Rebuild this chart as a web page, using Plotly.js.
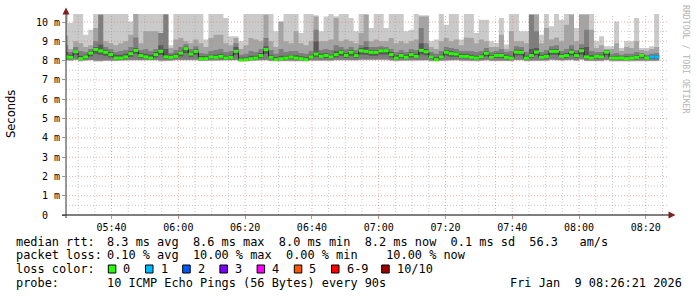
<!DOCTYPE html>
<html><head><meta charset="utf-8">
<script src="https://cdn.plot.ly/plotly-3.0.1.min.js"></script>
<style>html,body{margin:0;padding:0;background:#fff}#chart{width:697px;height:297px}</style>
</head><body><div id="chart"></div>
<script>
// ---------------- data (ms, one value per 90 s step) ----------------
const firstStepUTC = Date.UTC(2026, 0, 9, 5, 25, 30);
const stepMs = 90000;
const rangeStartUTC = Date.UTC(2026, 0, 9, 5, 26, 21);
const rangeEndUTC = Date.UTC(2026, 0, 9, 8, 26, 21);

const medianMs = [
8.19,8.17,8.46,8.10,8.19,8.39,8.58,8.50,8.43,8.31,
8.13,8.13,8.19,8.36,8.53,8.26,8.19,8.13,8.31,8.48,
8.19,8.17,8.22,8.39,8.62,8.34,8.48,8.10,8.10,8.19,
8.17,8.22,8.13,8.17,8.48,8.03,8.05,8.10,8.13,8.26,
8.57,8.17,8.05,8.10,8.13,8.19,8.13,8.10,8.05,8.19,
8.34,8.22,8.27,8.19,8.31,8.43,8.27,8.43,8.26,8.51,
8.48,8.43,8.43,8.51,8.51,8.31,8.13,8.26,8.17,8.31,
8.22,8.53,8.46,8.19,8.05,8.19,8.43,8.36,8.34,8.22,
8.22,8.17,8.13,8.20,8.38,8.17,8.27,8.27,8.17,8.13,
8.44,8.43,8.13,8.26,8.44,8.17,8.22,8.48,8.48,8.22,
8.26,8.44,8.26,8.51,8.19,8.13,8.22,8.19,8.44,8.13,
8.13,8.13,8.10,8.13,8.17,8.27,8.13,8.19,8.19];

const ping1Ms = [
8.00,7.98,8.02,7.96,7.98,8.00,7.95,7.94,7.98,8.00,7.97,7.98,8.00,7.98,8.01,7.99,7.97,7.98,8.00,7.96,
7.95,7.98,8.00,8.02,8.03,8.00,8.01,7.97,7.98,7.99,7.98,7.99,7.97,7.98,8.00,7.96,7.95,7.97,7.98,7.99,
8.00,7.97,7.95,7.96,7.98,7.98,7.97,7.96,7.95,7.98,8.00,7.99,8.01,7.98,8.00,8.02,8.00,8.01,7.99,8.02,
8.02,8.01,8.02,8.03,8.02,7.99,7.96,7.98,7.97,8.00,7.98,8.00,7.99,7.96,7.95,7.97,8.00,7.99,8.00,7.98,
7.98,7.97,7.96,7.97,8.00,7.97,7.99,7.98,7.97,7.96,8.01,8.00,7.96,7.97,8.00,7.97,7.98,8.02,8.01,7.98,
7.99,8.02,7.98,8.03,7.97,7.96,7.98,7.97,8.01,7.96,7.97,7.96,7.95,7.96,7.97,7.99,7.96,7.97,7.97];

const ping2Ms = [
8.04,8.02,8.06,8.00,8.02,8.04,8.00,7.99,8.02,8.04,8.01,8.02,8.04,8.02,8.05,8.03,8.01,8.02,8.04,8.01,
8.00,8.02,8.04,8.06,8.07,8.04,8.05,8.01,8.02,8.03,8.02,8.03,8.01,8.02,8.04,8.00,7.99,8.01,8.02,8.03,
8.04,8.01,7.99,8.00,8.02,8.02,8.01,8.00,7.99,8.02,8.04,8.03,8.05,8.02,8.04,8.06,8.04,8.05,8.03,8.06,
8.06,8.05,8.06,8.07,8.06,8.03,8.00,8.02,8.01,8.04,8.02,8.04,8.03,8.00,7.99,8.01,8.04,8.03,8.04,8.02,
8.02,8.01,8.00,8.01,8.04,8.01,8.03,8.02,8.01,8.00,8.05,8.04,8.00,8.01,8.04,8.01,8.02,8.06,8.05,8.02,
8.03,8.06,8.02,8.07,8.01,8.00,8.02,8.01,8.05,8.00,8.01,8.00,7.99,8.00,8.01,8.03,8.00,8.01,8.01];

const ping4Ms = [
8.10,8.08,8.30,8.03,8.08,8.22,8.35,8.30,8.25,8.18,8.05,8.05,8.10,8.20,8.35,8.15,8.10,8.05,8.18,8.30,
8.08,8.08,8.12,8.22,8.40,8.20,8.30,8.03,8.03,8.10,8.08,8.12,8.05,8.08,8.30,8.01,7.99,8.03,8.05,8.15,
8.35,8.08,7.99,8.03,8.05,8.10,8.05,8.03,7.99,8.10,8.20,8.12,8.15,8.10,8.18,8.25,8.15,8.25,8.15,8.32,
8.30,8.25,8.25,8.32,8.32,8.18,8.05,8.15,8.08,8.18,8.12,8.32,8.28,8.10,7.99,8.10,8.25,8.20,8.20,8.12,
8.12,8.08,8.05,8.10,8.22,8.08,8.15,8.15,8.08,8.05,8.28,8.26,8.05,8.15,8.28,8.08,8.12,8.30,8.30,8.12,
8.15,8.28,8.15,8.32,8.10,8.05,8.12,8.10,8.28,8.05,8.05,8.05,8.03,8.05,8.08,8.16,8.05,8.10,8.10];

const ping7Ms = [
8.45,8.30,8.55,8.25,8.30,8.50,8.70,8.83,8.55,8.45,8.30,8.30,8.35,8.50,8.65,8.40,8.35,8.30,8.45,8.80,
8.60,8.30,8.35,8.50,8.72,8.45,8.60,8.25,8.22,8.30,8.30,8.35,8.25,8.30,8.70,8.15,8.18,8.25,8.25,8.40,
8.75,8.30,8.18,8.25,8.25,8.30,8.28,8.22,8.18,8.30,9.00,8.35,8.40,8.30,8.50,8.55,8.40,8.55,8.38,8.65,
8.70,8.55,8.55,8.62,8.60,8.45,8.28,8.38,8.30,8.45,8.35,8.90,8.60,8.30,8.18,8.30,8.55,8.50,8.45,8.35,
8.35,8.30,8.25,8.32,8.50,8.28,8.38,8.40,8.30,8.25,8.58,8.55,8.25,8.60,8.65,8.30,8.35,8.60,8.60,8.35,
8.40,8.58,8.40,8.65,8.70,8.28,8.32,8.30,8.52,8.22,8.25,8.20,8.20,8.22,8.28,8.33,8.20,8.27,8.28];

const ping8Ms = [
8.80,8.45,8.70,8.50,8.45,8.60,9.00,10.38,8.70,8.60,8.45,8.50,8.55,8.70,9.20,8.55,8.60,8.50,8.60,9.43,
10.38,8.40,8.55,8.70,8.85,8.60,8.75,8.40,8.35,8.50,8.55,8.60,8.45,8.50,8.90,8.30,8.35,8.50,8.45,8.60,
9.17,8.55,8.35,8.60,8.45,8.50,8.50,8.40,8.35,8.50,9.60,8.55,8.60,8.55,8.80,8.70,8.60,8.70,8.55,8.80,
9.00,8.70,8.70,8.75,8.70,8.60,8.45,8.55,8.45,8.60,8.55,9.69,8.90,8.45,8.35,8.50,8.70,8.65,8.60,8.50,
8.50,8.50,8.45,8.50,8.65,8.45,8.50,8.60,8.45,8.50,8.75,8.70,8.45,10.38,9.52,8.45,8.55,8.75,8.80,8.50,
8.60,8.80,8.55,8.85,9.60,8.50,8.45,8.45,8.55,8.35,8.40,8.30,8.35,8.35,8.45,8.40,8.30,8.35,8.40];

const ping9Ms = [
9.30,8.60,9.00,8.90,8.70,8.80,9.69,10.38,9.00,8.90,8.80,8.90,9.00,9.34,10.60,8.90,9.52,9.52,9.52,9.43,
10.60,8.65,9.09,9.17,9.00,8.90,9.10,8.90,8.70,9.17,9.34,9.34,8.90,8.80,9.17,8.60,8.80,9.17,9.09,9.00,
10.38,9.00,8.70,10.00,9.00,8.90,9.52,8.90,8.80,9.00,10.29,9.00,9.00,9.10,10.21,9.00,9.10,9.00,8.90,9.43,
10.38,9.00,9.10,9.00,9.00,9.17,8.90,9.00,8.90,9.00,9.10,10.29,10.29,8.70,8.60,9.00,9.17,9.00,9.10,8.80,
9.20,9.17,8.90,9.10,9.00,8.70,8.70,9.34,8.60,9.52,9.00,9.00,8.90,10.38,10.38,8.90,9.69,9.10,9.20,9.00,
9.86,10.38,9.00,10.38,10.38,9.60,8.65,8.80,8.60,8.60,8.90,8.50,8.70,8.65,9.00,8.55,8.50,8.60,8.70];

const ping10Ms = [
10.60,9.95,10.60,10.60,9.34,9.60,10.60,10.60,10.60,10.60,10.60,10.60,10.60,10.03,10.60,10.60,10.60,10.60,10.60,10.60,
10.60,8.80,10.60,10.60,10.60,10.60,10.60,10.60,9.09,10.60,10.60,10.60,10.21,9.26,9.26,9.00,10.60,10.60,10.60,10.60,
10.60,10.60,9.52,10.05,10.60,10.60,10.60,9.43,10.60,10.60,10.35,9.52,10.29,10.60,10.30,10.60,10.60,10.21,9.52,10.60,
10.60,9.69,10.60,10.60,9.69,10.60,10.60,10.60,9.52,9.60,10.60,10.35,10.35,9.00,9.09,10.60,9.86,10.60,10.60,9.09,
10.60,10.60,9.43,10.12,10.12,9.00,8.91,10.21,8.83,10.60,10.60,9.52,9.52,10.60,10.60,9.34,10.60,9.78,10.60,10.12,
10.60,10.60,9.69,10.60,10.60,10.60,9.00,9.26,8.74,8.74,10.03,8.65,9.00,9.00,10.21,8.65,8.65,8.74,10.60];

const lossPerStep = [
0,0,0,0,0,0,0,0,0,0,0,0,0,0,0,0,0,0,0,0,
0,0,0,0,0,0,0,0,0,0,0,0,0,0,0,0,0,0,0,0,
0,0,0,0,0,0,0,0,0,0,0,0,0,0,0,0,0,0,0,0,
0,0,0,0,0,0,0,0,0,0,0,0,0,0,0,0,0,0,0,0,
0,0,0,0,0,0,0,0,0,0,0,0,0,0,0,0,0,0,0,0,
0,0,0,0,0,0,0,0,0,0,0,0,0,0,0,0,0,1,1];

const yTickVals = [0,1,2,3,4,5,6,7,8,9,10];
const yTickText = ['0\u00a0\u00a0','1 m','2 m','3 m','4 m','5 m','6 m','7 m','8 m','9 m','10 m'];
const xTickLabels = ['05:40','06:00','06:20','06:40','07:00','07:20','07:40','08:00','08:20'];

const lossLegendLabels = ['0','1','2','3','4','5','6-9','10/10'];
const lossLegendColors = ['#26ff00','#00b8ff','#0059ff','#7e00ff','#ff00ff','#ff5500','#ff0000','#a00000'];
const smokeColors = ['#cacaca','#a4a4a4','#7e7e7e','#585858'];

// ---------------- helpers ----------------
const L = 66, T = 14, W = 601, H = 201;
const px = x => (x - L) / W;
const py = y => (T + H - y) / H;
const iso = ms => new Date(ms).toISOString().replace('T', ' ').slice(0, 19);
const tStart = j => iso(firstStepUTC + j * stepMs);
const n = medianMs.length;

function bandTrace(lo, hi, color) {
  const x = [], y = [];
  for (let j = 0; j < n; j++) { x.push(tStart(j), tStart(j + 1)); y.push(hi[j], hi[j]); }
  for (let j = n - 1; j >= 0; j--) { x.push(tStart(j + 1), tStart(j)); y.push(lo[j], lo[j]); }
  return {type: 'scatter', mode: 'lines', x, y, fill: 'toself', fillcolor: color,
          line: {width: 0, color: color}, hoverinfo: 'skip'};
}

function lossColorIndex(l) {
  if (l <= 5) return l;
  if (l < 10) return 6;
  return 7;
}

const traces = [
  bandTrace(ping1Ms, ping10Ms, smokeColors[0]),
  bandTrace(ping2Ms, ping9Ms, smokeColors[1]),
  bandTrace(ping2Ms, ping8Ms, smokeColors[2]),
  bandTrace(ping4Ms, ping7Ms, smokeColors[3])
];

// thin dark median (shows the step transitions)
{
  const x = [], y = [];
  for (let j = 0; j < n; j++) { x.push(tStart(j)); y.push(medianMs[j]); }
  x.push(tStart(n)); y.push(medianMs[n - 1]);
  traces.push({type: 'scatter', mode: 'lines', x, y, line: {shape: 'hv', width: 1, color: '#202020'}, hoverinfo: 'skip'});
}
// loss-coloured median segments
lossLegendColors.forEach((col, ci) => {
  const x = [], y = [];
  for (let j = 0; j < n; j++) {
    if (lossColorIndex(lossPerStep[j]) !== ci) continue;
    x.push(tStart(j), tStart(j + 1), null); y.push(medianMs[j], medianMs[j], null);
  }
  if (x.length) traces.push({type: 'scatter', mode: 'lines', x, y, connectgaps: false,
    line: {width: 3, color: col}, hoverinfo: 'skip'});
});

// ---------------- grid / axes decoration ----------------
const shapes = [];
for (let m = 0; m <= 180; m += 5) {
  const ms = Date.UTC(2026, 0, 9, 5, 30) + m * 60000;
  if (ms >= rangeEndUTC) break;
  const isMajor = new Date(ms).getUTCMinutes() % 20 === 0;
  shapes.push({type: 'line', layer: 'above', xref: 'x', yref: 'paper', x0: iso(ms), x1: iso(ms), y0: 0, y1: 1,
    line: {color: isMajor ? 'rgba(220,120,120,0.6)' : 'rgba(150,150,150,0.5)', width: 1, dash: '1px,2px'}});
}
for (let v = 0.5; v <= 10.01; v += 0.5) {
  const isMajor = Math.abs(v - Math.round(v)) < 1e-6;
  shapes.push({type: 'line', layer: 'above', xref: 'paper', yref: 'y', x0: 0, x1: 1, y0: v, y1: v,
    line: {color: isMajor ? 'rgba(220,120,120,0.6)' : 'rgba(150,150,150,0.5)', width: 1, dash: '1px,2px'}});
}
// axis lines and arrows
shapes.push({type: 'line', layer: 'above', xref: 'paper', yref: 'paper', x0: px(62), x1: px(669), y0: py(215), y1: py(215), line: {color: '#000', width: 1}});
shapes.push({type: 'line', layer: 'above', xref: 'paper', yref: 'paper', x0: px(66), x1: px(66), y0: py(218), y1: py(13), line: {color: '#333', width: 1}});
shapes.push({type: 'path', layer: 'above', xref: 'paper', yref: 'paper',
  path: `M ${px(62.5)} ${py(14.5)} L ${px(69.5)} ${py(14.5)} L ${px(66)} ${py(7.5)} Z`,
  fillcolor: '#7f1f1f', line: {width: 0}});
shapes.push({type: 'path', layer: 'above', xref: 'paper', yref: 'paper',
  path: `M ${px(668.5)} ${py(211.5)} L ${px(668.5)} ${py(218.5)} L ${px(675.5)} ${py(215)} Z`,
  fillcolor: '#7f1f1f', line: {width: 0}});

// ---------------- legend text ----------------
const mono = 'DejaVu Sans Mono';
const sp = s => s.replace(/ /g, '\u00a0');
const annotations = [];
function txt(x, y, s, opts = {}) {
  annotations.push(Object.assign({xref: 'paper', yref: 'paper', x: px(x), y: py(y), text: sp(s),
    showarrow: false, xanchor: 'left', yanchor: 'middle', borderpad: 0,
    font: {family: mono, size: 11.9, color: '#000'}}, opts));
}
const colX = 106;
txt(15, 241.5, 'median rtt:');
txt(colX, 241.5, '8.3 ms avg  8.6 ms max  8.0 ms min  8.2 ms now  0.1 ms sd  56.3   am/s');
txt(15, 255.3, 'packet loss:');
txt(colX, 255.3, '0.10 % avg  10.00 % max  0.00 % min    10.00 % now');
txt(15, 269.1, 'loss color:');
const swatchX = [108.3, 145.5, 182.7, 219.9, 257.1, 294.3, 331.5, 381.7];
lossLegendLabels.forEach((lab, i) => {
  shapes.push({type: 'rect', layer: 'above', xref: 'paper', yref: 'paper',
    x0: px(swatchX[i]), x1: px(swatchX[i] + 7.5), y0: py(273), y1: py(265),
    fillcolor: lossLegendColors[i], line: {color: '#000', width: 1}});
  txt(swatchX[i] + 14, 269.1, lab);
});
txt(15, 283, 'probe:');
txt(colX, 283, '10 ICMP Echo Pings (56 Bytes) every 90s');
txt(509, 283, 'Fri Jan  9 08:26:21 2026');
annotations.push({xref: 'paper', yref: 'paper', x: px(11), y: py(114), text: 'Seconds', showarrow: false,
  textangle: -90, xanchor: 'center', yanchor: 'middle', font: {family: 'DejaVu Sans', size: 11.5, color: '#000'}});
annotations.push({xref: 'paper', yref: 'paper', x: px(686), y: py(59), text: sp('RRDTOOL / TOBI OETIKER'), showarrow: false,
  textangle: 90, xanchor: 'center', yanchor: 'middle', font: {family: mono, size: 8.2, color: '#b4b4b4'}});

const xTickVals = xTickLabels.map(s => { const [h, m] = s.split(':').map(Number); return iso(Date.UTC(2026, 0, 9, h, m)); });

const layout = {
  width: 697, height: 297,
  margin: {l: L, r: 697 - L - W, t: T, b: 297 - T - H, pad: 0},
  paper_bgcolor: '#fff', plot_bgcolor: '#fff',
  showlegend: false,
  xaxis: {type: 'date', range: [iso(rangeStartUTC), iso(rangeEndUTC)], tickvals: xTickVals, ticktext: xTickLabels,
    ticks: 'outside', ticklen: 3, tickcolor: '#d08a8a', showgrid: false, zeroline: false, showline: false,
    tickfont: {family: mono, size: 10, color: '#000'}, fixedrange: true},
  yaxis: {range: [0, 10.415], tickvals: yTickVals, ticktext: yTickText,
    ticks: 'outside', ticklen: 3, tickcolor: '#999', showgrid: false, zeroline: false, showline: false,
    tickfont: {family: mono, size: 10, color: '#000'}, fixedrange: true},
  shapes, annotations
};

Plotly.newPlot('chart', traces, layout, {staticPlot: true, displayModeBar: false});
</script>
</body></html>
